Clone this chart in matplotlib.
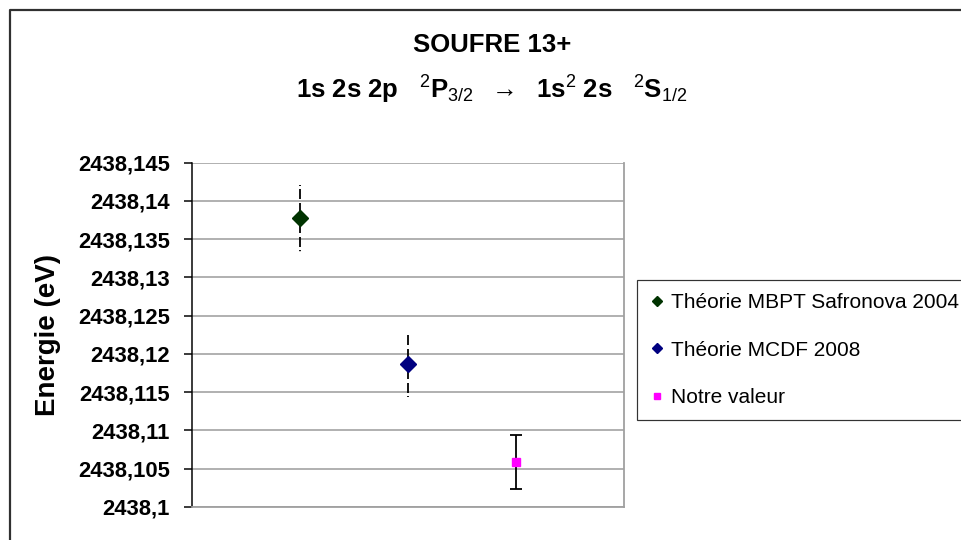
import matplotlib
matplotlib.use("Agg")
import matplotlib.pyplot as plt
from matplotlib.lines import Line2D

# ---- data ----
series_names = ["Théorie MBPT Safronova 2004", "Théorie MCDF 2008", "Notre valeur"]
x_positions = [1, 2, 3]
energies = [2438.13773, 2438.11865, 2438.10588]
uncertainties = [0.00438, 0.00425, 0.00353]
ytick_values = [2438.100, 2438.105, 2438.110, 2438.115, 2438.120,
                2438.125, 2438.130, 2438.135, 2438.140, 2438.145]
ytick_labels = ["2438,1", "2438,105", "2438,11", "2438,115", "2438,12",
                "2438,125", "2438,13", "2438,135", "2438,14", "2438,145"]
title_line1 = "SOUFRE 13+"
ylabel_text = "Energie (eV)"

# ---- style ----
plt.rcParams['font.family'] = ['Liberation Sans', 'DejaVu Sans']
plt.rcParams['mathtext.fontset'] = 'custom'
plt.rcParams['mathtext.rm'] = 'Liberation Sans'
plt.rcParams['mathtext.bf'] = 'Liberation Sans:bold'
plt.rcParams['mathtext.it'] = 'Liberation Sans:italic'
plt.rcParams['lines.scale_dashes'] = False

W, H, DPI = 962, 540, 100
PX = 72.0 / DPI  # points per pixel
fig = plt.figure(figsize=(W / DPI, H / DPI), dpi=DPI)

colors = ['#003300', '#000080', '#FF00FF']
markers = ['D', 'D', 's']

ax_left, ax_right, ax_top, ax_bottom = 192, 624.3, 162.7, 507
ax = fig.add_axes([ax_left / W, 1 - ax_bottom / H,
                   (ax_right - ax_left) / W, (ax_bottom - ax_top) / H])
ax.set_xlim(0, 4)
ax.set_ylim(ytick_values[0], ytick_values[-1])

grid_col = '#a0a0a0'
ax.set_yticks(ytick_values)
ax.set_yticklabels(ytick_labels, fontsize=15.8, fontweight='bold')
ax.set_xticks([])
ax.yaxis.grid(True, color=grid_col, linewidth=1.6 * PX)
ax.set_axisbelow(True)
ax.spines['top'].set_visible(False)
for side in ['right', 'bottom']:
    ax.spines[side].set_color(grid_col)
    ax.spines[side].set_linewidth(1.8 * PX)
ax.spines['left'].set_color('black')
ax.spines['left'].set_linewidth(1.5 * PX)
ax.tick_params(axis='y', direction='out', length=8 * PX, width=1.5 * PX,
               pad=14 * PX, colors='black')

# dashed half-bars (from centre outwards) for the theory values
half_pattern = (0, [15 * PX, 4 * PX, 10 * PX, 3 * PX, 1.2 * PX, 60 * PX])
handles = []
for i in range(3):
    x, y, e = x_positions[i], energies[i], uncertainties[i]
    if i < 2:
        ax.vlines([x], [y], [y + e], colors='black', linewidth=1.8 * PX,
                  linestyles=[half_pattern], zorder=2)
        ax.vlines([x], [y], [y - e], colors='black', linewidth=1.8 * PX,
                  linestyles=[half_pattern], zorder=2)
    else:
        ax.errorbar([x], [y], yerr=[e], fmt='none', ecolor='black',
                    elinewidth=1.8 * PX, capsize=4.3,
                    capthick=1.8 * PX, zorder=2)
    ax.plot([x], [y], linestyle='none', marker=markers[i],
            markersize=[8.5, 8.5, 5.2][i], color=colors[i],
            markeredgecolor=colors[i], zorder=3)
    handles.append(Line2D([], [], linestyle='none', marker=markers[i],
                          markersize=[5.5, 5.5, 3.8][i], color=colors[i],
                          markeredgecolor=colors[i]))

# legend
leg = fig.legend(handles, series_names, loc='upper left',
                 bbox_to_anchor=(636.7 / W, 1 - 280 / H), borderaxespad=0,
                 fontsize=15, frameon=True, fancybox=False,
                 edgecolor='black', labelspacing=1.38, handlelength=0.7,
                 handletextpad=0.35, borderpad=0.62)
leg.get_frame().set_linewidth(1.2 * PX)

# titles
fig.text(492 / W, 1 - 45 / H, title_line1, ha='center', va='center',
         fontsize=18.5, fontweight='bold')
line2 = (r"$\mathbf{1s\ 2s\ 2p}\ \ \ ^{\mathrm{2}}\mathbf{P}_{\mathrm{3/2}}"
         r"\ \ \mathbf{\rightarrow}\ \ \mathbf{1s}^{\mathrm{2}}\ \mathbf{2s}"
         r"\ \ \ ^{\mathrm{2}}\mathbf{S}_{\mathrm{1/2}}$")
fig.text(492 / W, 1 - 90 / H, line2, ha='center', va='center', fontsize=18.5)

# y label
fig.text(48 / W, 1 - 335 / H, ylabel_text, rotation=90, ha='center',
         va='center', fontsize=20, fontweight='bold')

# outer chart border (top and left visible)
fig.add_artist(Line2D([10 / W, 10 / W, 1.02], [-0.02, 1 - 10 / H, 1 - 10 / H],
                      transform=fig.transFigure, color='#303030',
                      linewidth=2.2 * PX))

fig.savefig('out.png', dpi=DPI)
